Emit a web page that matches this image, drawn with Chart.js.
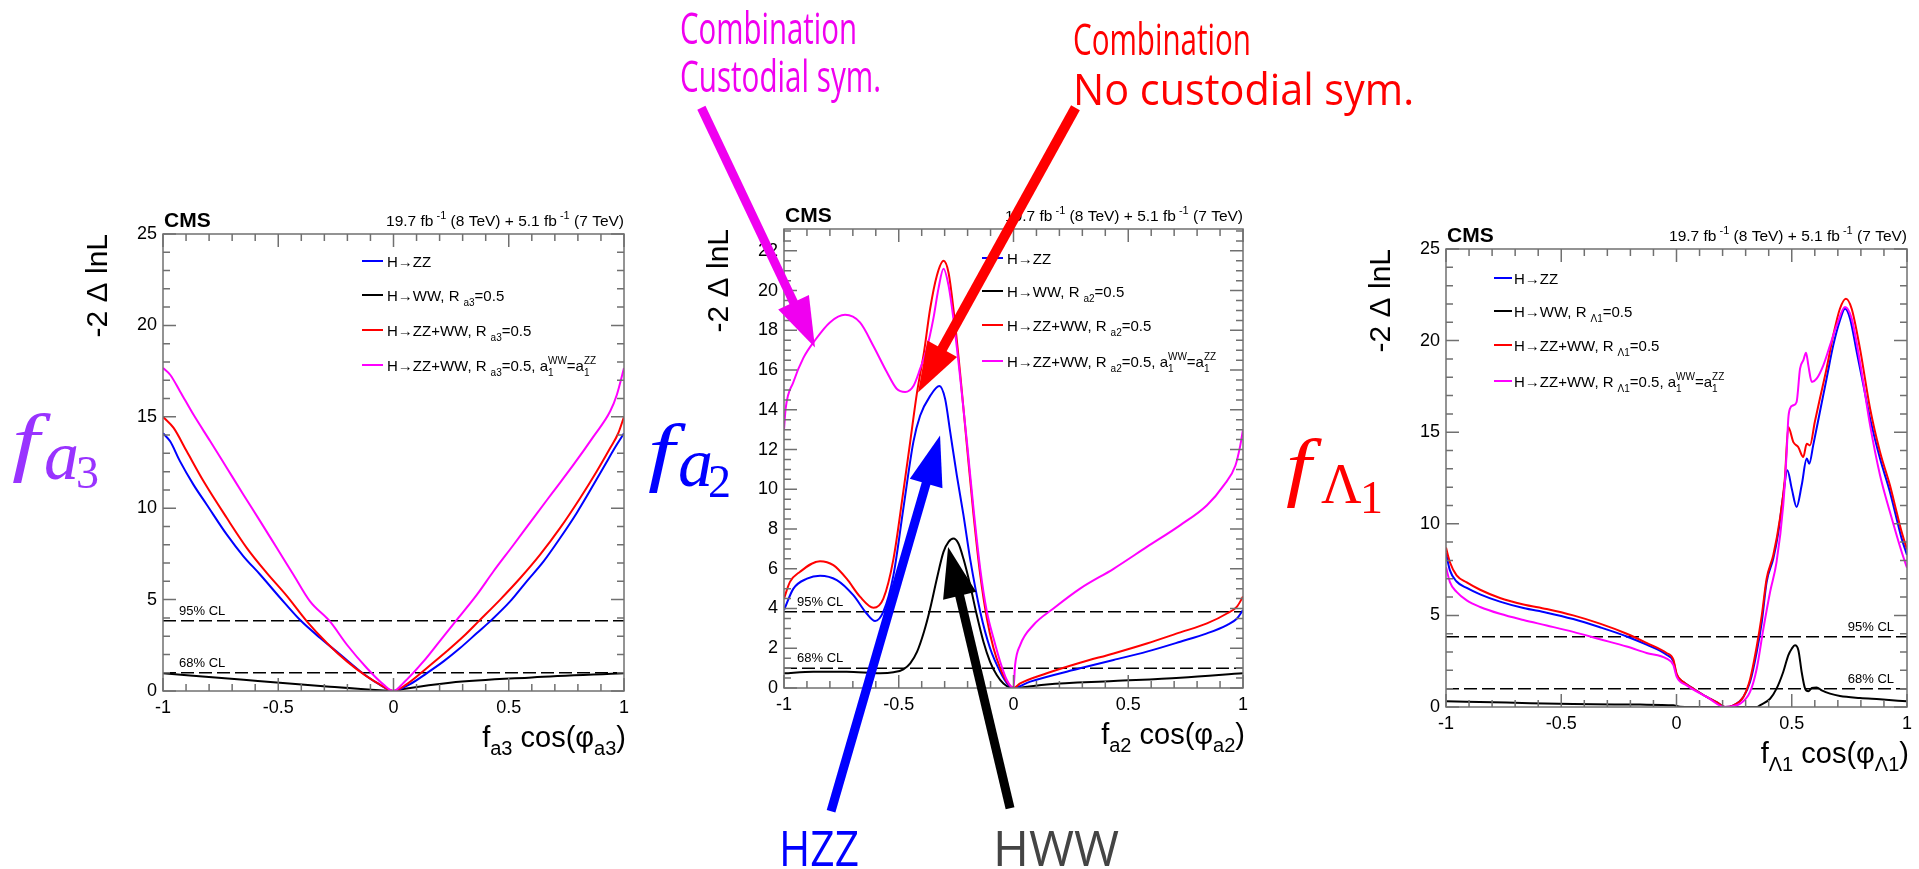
<!DOCTYPE html>
<html>
<head>
<meta charset="utf-8">
<script src="https://cdn.jsdelivr.net/npm/chart.js@4/dist/chart.umd.min.js"></script>
<style>
  html, body { margin: 0; padding: 0; background: #fff; }
  #wrap { position: relative; width: 1919px; height: 869px; overflow: hidden; }
  canvas { position: absolute; left: 0; top: 0; }
</style>
</head>
<body>
<div id="wrap">
  <canvas id="cA3" width="1919" height="869"></canvas>
  <canvas id="cL1" width="1919" height="869"></canvas>
  <canvas id="cA2" width="1919" height="869"></canvas>
</div>
<script>
// ── shared ticks / levels ─────────────────────────────────────────────
var xTicks = [-1, -0.5, 0, 0.5, 1];
var yTicksA3 = [0, 5, 10, 15, 20, 25];
var yTicksA2 = [0, 2, 4, 6, 8, 10, 12, 14, 16, 18, 20, 22];
var yTicksL1 = [0, 5, 10, 15, 20, 25];
var clLevels = [3.84, 1.0];
var clNames = ['95% CL', '68% CL'];

// ── f_a3 panel: [x, -2ΔlnL] ───────────────────────────────────────────
var a3ZZ = [[-1,14.1],[-0.969,13.66],[-0.926,12.56],[-0.868,11.29],[-0.81,10.19],[-0.723,8.55],[-0.651,7.37],[-0.578,6.36],[-0.492,5.1],[-0.405,3.88],[-0.318,2.9],[-0.231,1.99],[-0.145,1.08],[-0.072,0.44],[0,0],[0.072,0.38],[0.145,0.98],[0.217,1.62],[0.289,2.35],[0.362,3.17],[0.419,3.81],[0.506,4.9],[0.578,6.0],[0.651,7.09],[0.723,8.37],[0.795,9.74],[0.868,11.29],[0.926,12.56],[0.969,13.48],[1,14.1]];
var a3WW = [[-1,0.97],[-0.65,0.61],[-0.29,0.25],[-0.06,0.04],[0,0],[0.05,0.12],[0.245,0.45],[0.6,0.74],[1,0.97]];
var a3Comb = [[-1,15.0],[-0.954,14.39],[-0.897,13.11],[-0.824,11.47],[-0.723,9.46],[-0.636,7.82],[-0.55,6.46],[-0.463,5.2],[-0.376,3.81],[-0.289,2.63],[-0.202,1.62],[-0.116,0.8],[-0.058,0.35],[0,0],[0.058,0.38],[0.145,1.26],[0.231,2.17],[0.304,2.99],[0.369,3.81],[0.463,5.0],[0.55,6.18],[0.636,7.46],[0.723,8.92],[0.81,10.56],[0.882,12.02],[0.94,13.29],[0.975,14.1],[1,15.0]];
var a3Cust = [[-1,17.67],[-0.969,17.3],[-0.926,16.39],[-0.868,15.12],[-0.795,13.66],[-0.723,12.2],[-0.651,10.74],[-0.578,9.28],[-0.506,7.82],[-0.434,6.36],[-0.362,4.9],[-0.275,3.79],[-0.202,2.53],[-0.116,1.26],[-0.043,0.35],[0,0],[0.043,0.44],[0.13,1.62],[0.2,2.72],[0.268,3.79],[0.362,5.27],[0.434,6.55],[0.521,8.0],[0.607,9.46],[0.694,10.92],[0.781,12.38],[0.868,13.93],[0.94,15.3],[0.969,16.21],[1,17.67]];

// ── f_a2 panel ────────────────────────────────────────────────────────
var a2ZZ = [[-1,3.92],[-0.959,5.0],[-0.9,5.5],[-0.843,5.65],[-0.77,5.43],[-0.698,4.67],[-0.64,3.75],[-0.603,3.37],[-0.567,3.84],[-0.523,5.68],[-0.48,9.03],[-0.436,12.4],[-0.407,13.7],[-0.363,14.7],[-0.323,15.2],[-0.298,14.55],[-0.276,12.9],[-0.247,10.7],[-0.218,8.7],[-0.189,6.5],[-0.145,3.84],[-0.102,2.0],[-0.058,0.82],[-0.022,0.15],[0,0],[0.073,0.32],[0.29,0.99],[0.436,1.41],[0.581,1.83],[0.727,2.33],[0.843,2.75],[0.93,3.17],[0.974,3.5],[1,3.92]];
var a2WW = [[-1,0.74],[-0.872,0.82],[-0.727,0.82],[-0.581,0.74],[-0.523,0.79],[-0.48,0.94],[-0.45,1.24],[-0.42,1.83],[-0.39,2.83],[-0.363,4.0],[-0.334,5.5],[-0.305,6.85],[-0.283,7.35],[-0.262,7.52],[-0.24,7.27],[-0.218,6.5],[-0.189,5.18],[-0.16,3.67],[-0.131,2.33],[-0.102,1.32],[-0.073,0.65],[-0.044,0.23],[0,0],[0.145,0.18],[0.436,0.35],[0.727,0.52],[1,0.74]];
var a2Comb = [[-1,4.5],[-0.974,5.34],[-0.93,5.85],[-0.843,6.38],[-0.785,6.18],[-0.727,5.5],[-0.669,4.6],[-0.61,4.04],[-0.567,4.5],[-0.523,6.5],[-0.48,9.9],[-0.45,12.4],[-0.42,14.9],[-0.39,16.9],[-0.363,19.1],[-0.334,20.75],[-0.305,21.5],[-0.283,20.9],[-0.262,19.1],[-0.233,15.9],[-0.203,12.2],[-0.174,8.7],[-0.145,5.7],[-0.116,3.5],[-0.087,2.0],[-0.058,1.0],[-0.029,0.32],[0,0],[0.029,0.23],[0.145,0.74],[0.29,1.27],[0.436,1.74],[0.581,2.24],[0.727,2.8],[0.843,3.25],[0.93,3.75],[0.974,4.1],[1,4.6]];
var a2Cust = [[-1,13.0],[-0.993,14.05],[-0.959,15.4],[-0.916,16.6],[-0.865,17.5],[-0.8,18.4],[-0.734,18.78],[-0.669,18.4],[-0.61,17.2],[-0.552,15.9],[-0.509,15.06],[-0.472,14.9],[-0.436,15.2],[-0.407,16.06],[-0.378,17.07],[-0.349,18.6],[-0.327,20.1],[-0.305,21.1],[-0.283,20.25],[-0.262,18.6],[-0.233,15.7],[-0.203,12.4],[-0.174,9.0],[-0.145,6.0],[-0.116,3.84],[-0.087,2.5],[-0.058,1.32],[-0.029,0.4],[0,0],[0.007,1.16],[0.029,2.16],[0.087,3.17],[0.174,4.0],[0.29,5.0],[0.436,6.0],[0.581,7.1],[0.727,8.2],[0.843,9.2],[0.916,10.2],[0.967,11.2],[0.988,12.2],[1,13.0]];

// ── f_Λ1 panel ────────────────────────────────────────────────────────
var l1ZZ = [[-1,8.4],[-0.983,7.46],[-0.954,6.85],[-0.91,6.5],[-0.852,6.15],[-0.766,5.75],[-0.664,5.4],[-0.563,5.15],[-0.448,4.8],[-0.332,4.35],[-0.216,3.85],[-0.13,3.4],[-0.043,2.85],[-0.014,2.5],[0.001,1.75],[0.03,1.36],[0.073,1.0],[0.131,0.55],[0.174,0.27],[0.21,0],[0.247,0.09],[0.29,0.55],[0.319,1.36],[0.348,3.0],[0.37,4.64],[0.391,6.82],[0.42,8.1],[0.442,9.55],[0.463,11.55],[0.481,12.92],[0.5,11.92],[0.521,10.92],[0.543,12.1],[0.565,13.56],[0.576,13.28],[0.593,14.28],[0.622,16.1],[0.651,17.92],[0.68,19.74],[0.709,21.1],[0.731,21.74],[0.753,21.2],[0.782,19.38],[0.811,17.56],[0.84,15.74],[0.883,13.56],[0.926,11.74],[0.955,10.28],[0.977,9.19],[1,8.3]];
var l1WW = [[-1,0.31],[-0.737,0.24],[-0.448,0.16],[-0.158,0.13],[-0.014,0.09],[0.015,0.02],[0.13,0],[0.35,0],[0.362,0.09],[0.406,0.45],[0.434,1.0],[0.463,1.91],[0.485,2.82],[0.5,3.18],[0.514,3.37],[0.529,3.09],[0.543,1.91],[0.558,1.0],[0.572,0.86],[0.587,1.04],[0.608,1.07],[0.63,0.91],[0.666,0.73],[0.709,0.6],[0.796,0.49],[0.883,0.42],[1,0.31]];
var l1Comb = [[-1,8.7],[-0.983,7.9],[-0.954,7.19],[-0.91,6.8],[-0.852,6.4],[-0.766,5.95],[-0.664,5.6],[-0.563,5.35],[-0.448,5.0],[-0.332,4.55],[-0.216,4.0],[-0.13,3.5],[-0.043,2.95],[-0.014,2.6],[0.001,1.8],[0.03,1.36],[0.073,1.0],[0.131,0.55],[0.174,0.27],[0.21,0],[0.247,0.09],[0.29,0.55],[0.319,1.5],[0.348,3.3],[0.37,5.0],[0.391,7.0],[0.42,8.3],[0.449,10.3],[0.47,12.46],[0.485,15.28],[0.507,14.46],[0.528,14.19],[0.55,13.65],[0.565,14.37],[0.579,14.28],[0.6,15.56],[0.622,16.83],[0.651,18.47],[0.68,20.29],[0.709,21.74],[0.735,22.29],[0.76,21.74],[0.796,19.56],[0.84,16.28],[0.883,13.92],[0.926,12.1],[0.955,10.64],[0.977,9.55],[1,8.6]];
var l1Cust = [[-1,7.64],[-0.983,6.82],[-0.954,6.28],[-0.91,5.82],[-0.852,5.46],[-0.766,5.09],[-0.664,4.75],[-0.563,4.45],[-0.448,4.1],[-0.332,3.7],[-0.216,3.3],[-0.13,2.95],[-0.043,2.64],[-0.014,2.3],[0.001,1.64],[0.044,1.18],[0.131,0.55],[0.21,0],[0.276,0.18],[0.319,0.82],[0.348,2.09],[0.377,4.28],[0.406,6.28],[0.434,7.91],[0.463,11.0],[0.478,13.92],[0.485,15.74],[0.492,16.28],[0.507,16.47],[0.521,16.65],[0.536,18.47],[0.55,18.92],[0.562,19.34],[0.572,18.65],[0.587,17.74],[0.608,17.92],[0.637,18.65],[0.666,19.74],[0.695,20.83],[0.731,21.83],[0.76,21.2],[0.796,18.83],[0.84,15.37],[0.883,12.65],[0.926,10.64],[0.955,9.37],[0.977,8.46],[1,7.6]];

// ── annotation arrows, in f_a2 data coordinates ───────────────────────
var arrowFrom = [[-1.36, 29.2], [0.27, 29.2], [-0.795, -6.2], [-0.015, -6.05]];
var arrowTo   = [[-0.865, 17.14], [-0.416, 14.87], [-0.32, 12.71], [-0.285, 7.09]];
var arrowCols = ['#f000f0', '#ff0000', '#0000ff', '#000000'];

var colZZ = '#0000ff', colWW = '#000000', colComb = '#ff0000', colCust = '#ff00ff';
var SANS = '"Liberation Sans", Arial, Helvetica, sans-serif';
var SERIF = '"Liberation Serif", "Times New Roman", serif';
var NOTE = '"Open Sans", sans-serif';

function fontStr(p) {
  return (p.it ? 'italic ' : '') + (p.b ? 'bold ' : '') + p.s + 'px ' + (p.fam || SANS);
}
function partW(ctx, p) {
  if (p.gap) return p.gap;
  ctx.font = fontStr(p);
  if (p.sup !== undefined) return Math.max(ctx.measureText(p.sup).width, ctx.measureText(p.sub).width);
  return ctx.measureText(p.t).width;
}
function drawRich(ctx, parts, x, y, align) {
  if (align === 'right') {
    var w = 0;
    parts.forEach(function (p) { w += partW(ctx, p); });
    x -= w;
  }
  ctx.textAlign = 'left';
  ctx.textBaseline = 'alphabetic';
  parts.forEach(function (p) {
    var w = partW(ctx, p);
    if (p.gap) { x += w; return; }
    ctx.font = fontStr(p);
    if (p.sup !== undefined) {
      ctx.fillText(p.sup, x, y - p.up);
      ctx.fillText(p.sub, x, y + p.down);
    } else {
      ctx.fillText(p.t, x, y + (p.dy || 0));
    }
    x += w;
  });
}
// places a glyph so that its ink box starts at `left` and ends at `bottom`;
// if `right` is given the glyph is stretched horizontally to that edge
function glyph(ctx, t, font, left, bottom, right) {
  ctx.font = font;
  ctx.textAlign = 'left';
  ctx.textBaseline = 'alphabetic';
  var m = ctx.measureText(t);
  var inkW = m.actualBoundingBoxLeft + m.actualBoundingBoxRight;
  var sx = right ? (right - left) / inkW : 1;
  ctx.save();
  ctx.translate(left, bottom - m.actualBoundingBoxDescent);
  ctx.scale(sx, 1);
  ctx.fillText(t, m.actualBoundingBoxLeft, 0);
  ctx.restore();
}

function legendParts(sym) {
  var S = 15, s = 10;
  return [
    [{ t: 'H→ZZ', s: S }],
    [{ t: 'H→WW, R', s: S }, { gap: 4 }, { t: sym, s: s, dy: 5 }, { t: '=0.5', s: S }],
    [{ t: 'H→ZZ+WW, R', s: S }, { gap: 4 }, { t: sym, s: s, dy: 5 }, { t: '=0.5', s: S }],
    [{ t: 'H→ZZ+WW, R', s: S }, { gap: 4 }, { t: sym, s: s, dy: 5 }, { t: '=0.5, a', s: S },
     { sup: 'WW', sub: '1', s: s, up: 7, down: 5 }, { t: '=a', s: S }, { sup: 'ZZ', sub: '1', s: s, up: 7, down: 5 }]
  ];
}
var lumiParts = [{ t: '19.7 fb', s: 15.5 }, { gap: 3 }, { t: '-1', s: 11, dy: -7 }, { t: ' (8 TeV) + 5.1 fb', s: 15.5 },
                 { gap: 3 }, { t: '-1', s: 11, dy: -7 }, { t: ' (7 TeV)', s: 15.5 }];

var panels = [
  { id: 'cA3', area: { l: 163, t: 234, r: 624, b: 691 }, yMax: 25, yTicks: yTicksA3, yMinor: 1, majEvery: 5,
    sym: 'a3', series: [a3ZZ, a3WW, a3Comb, a3Cust],
    leg: { x0: 362, x1: 383, tx: 387, rows: [261, 295, 330, 365] },
    cl: { align: 'left', x: 179 },
    big: { color: '#9933ff', f: [12, 483, 51], sub: 'a', subIt: true, subSize: 70, s: [46, 480], ss: '3', sss: [78, 488] } },
  { id: 'cL1', area: { l: 1446, t: 249, r: 1907, b: 707 }, yMax: 25, yTicks: yTicksL1, yMinor: 1, majEvery: 5,
    sym: 'Λ1', series: [l1ZZ, l1WW, l1Comb, l1Cust],
    leg: { x0: 1494, x1: 1512, tx: 1514, rows: [278, 311, 345, 381] },
    cl: { align: 'right', x: 1894 },
    big: { color: '#ff0000', f: [1286, 508, 1322], sub: 'Λ', subIt: false, subSize: 56, s: [1321, 503], ss: '1', sss: [1364, 513] } },
  { id: 'cA2', area: { l: 784, t: 229, r: 1243, b: 688 }, yMax: 23.1, yTicks: yTicksA2, yMinor: 0.5, majEvery: 4,
    sym: 'a2', series: [a2ZZ, a2WW, a2Comb, a2Cust],
    leg: { x0: 982, x1: 1003, tx: 1007, rows: [258, 291, 325, 361] },
    cl: { align: 'left', x: 797 },
    big: { color: '#0000ff', f: [648, 493, 686], sub: 'a', subIt: true, subSize: 70, s: [680, 487], ss: '2', sss: [710, 497] },
    notes: true }
];

function framePlugin(p) {
  return {
    id: 'rootFrame',
    afterDraw: function (chart) {
      var ctx = chart.ctx, xs = chart.scales.x, ys = chart.scales.y, a = chart.chartArea;
      ctx.save();
      // frame + inward ticks on all four sides
      ctx.strokeStyle = '#707070';
      ctx.lineWidth = 1.5;
      ctx.strokeRect(a.left, a.top, a.right - a.left, a.bottom - a.top);
      ctx.beginPath();
      for (var i = -10; i <= 10; i++) {
        var px = xs.getPixelForValue(i / 10), len = (i % 5 === 0) ? 13 : 7;
        ctx.moveTo(px, a.bottom); ctx.lineTo(px, a.bottom - len);
        ctx.moveTo(px, a.top); ctx.lineTo(px, a.top + len);
      }
      for (var k = 0; k * p.yMinor <= p.yMax + 1e-9; k++) {
        var py = ys.getPixelForValue(k * p.yMinor), ly = (k % p.majEvery === 0) ? 13 : 7;
        ctx.moveTo(a.left, py); ctx.lineTo(a.left + ly, py);
        ctx.moveTo(a.right, py); ctx.lineTo(a.right - ly, py);
      }
      ctx.stroke();

      ctx.fillStyle = '#000';
      // tick labels
      ctx.font = '18px ' + SANS;
      ctx.textAlign = 'right'; ctx.textBaseline = 'middle';
      p.yTicks.forEach(function (v) { ctx.fillText(String(v), a.left - 6, ys.getPixelForValue(v)); });
      ctx.textAlign = 'center'; ctx.textBaseline = 'alphabetic';
      xTicks.forEach(function (v) { ctx.fillText(String(v), xs.getPixelForValue(v), a.bottom + 22); });

      // axis titles
      drawRich(ctx, [{ t: 'f', s: 29 }, { t: p.sym, s: 20, dy: 8 }, { t: ' cos(φ', s: 29 }, { t: p.sym, s: 20, dy: 8 }, { t: ')', s: 29 }],
               a.right + 2, a.bottom + 56, 'right');
      ctx.save();
      ctx.translate(a.left - 56, a.top);
      ctx.rotate(-Math.PI / 2);
      ctx.font = '30px ' + SANS;
      ctx.textAlign = 'right'; ctx.textBaseline = 'alphabetic';
      ctx.fillText('-2 Δ lnL', 0, 0);
      ctx.restore();

      // CMS + lumi
      ctx.font = 'bold 21px ' + SANS;
      ctx.textAlign = 'left';
      ctx.fillText('CMS', a.left + 1, a.top - 7);
      drawRich(ctx, lumiParts, a.right, a.top - 8, 'right');

      // legend
      var cols = [colZZ, colWW, colComb, colCust];
      var parts = legendParts(p.sym);
      p.leg.rows.forEach(function (ry, i) {
        ctx.strokeStyle = cols[i]; ctx.lineWidth = 2;
        ctx.beginPath(); ctx.moveTo(p.leg.x0, ry); ctx.lineTo(p.leg.x1, ry); ctx.stroke();
        ctx.fillStyle = '#000';
        drawRich(ctx, parts[i], p.leg.tx, ry + 5.5, 'left');
      });

      // CL labels
      ctx.font = '13px ' + SANS;
      ctx.textAlign = p.cl.align;
      clLevels.forEach(function (lv, i) { ctx.fillText(clNames[i], p.cl.x, ys.getPixelForValue(lv) - 6); });

      // big coupling label
      ctx.fillStyle = p.big.color;
      glyph(ctx, 'f', 'italic 76px ' + SERIF, p.big.f[0], p.big.f[1], p.big.f[2]);
      glyph(ctx, p.big.sub, (p.big.subIt ? 'italic ' : '') + p.big.subSize + 'px ' + SERIF, p.big.s[0], p.big.s[1]);
      glyph(ctx, p.big.ss, '46px ' + SERIF, p.big.sss[0], p.big.sss[1]);

      if (p.notes) drawNotes(ctx, xs, ys);
      ctx.restore();
    }
  };
}

function drawNotes(ctx, xs, ys) {
  // arrows
  arrowFrom.forEach(function (f, i) {
    var x0 = xs.getPixelForValue(f[0]), y0 = ys.getPixelForValue(f[1]);
    var x1 = xs.getPixelForValue(arrowTo[i][0]), y1 = ys.getPixelForValue(arrowTo[i][1]);
    var dx = x1 - x0, dy = y1 - y0, L = Math.sqrt(dx * dx + dy * dy);
    var ux = dx / L, uy = dy / L, hl = 50, hw = 17;
    var bx = x1 - ux * hl, by = y1 - uy * hl;
    ctx.strokeStyle = arrowCols[i]; ctx.fillStyle = arrowCols[i];
    ctx.lineWidth = i === 1 ? 10 : 9; ctx.lineCap = 'butt';
    ctx.beginPath(); ctx.moveTo(x0, y0); ctx.lineTo(bx + ux * 2, by + uy * 2); ctx.stroke();
    ctx.beginPath();
    ctx.moveTo(x1, y1);
    ctx.lineTo(bx - uy * hw, by + ux * hw);
    ctx.lineTo(bx + uy * hw, by - ux * hw);
    ctx.closePath(); ctx.fill();
  });
  // text notes
  ctx.textAlign = 'left'; ctx.textBaseline = 'alphabetic';
  ctx.font = '43px ' + NOTE;
  ctx.fillStyle = '#f000f0';
  ctx.fillText('Combination', 680, 44, 177);
  ctx.fillText('Custodial sym.', 680, 92, 201);
  ctx.fillStyle = '#ff0000';
  ctx.fillText('Combination', 1073, 55, 178);
  ctx.fillText('No custodial sym.', 1073, 105, 341);
  ctx.font = '49px ' + NOTE;
  ctx.fillStyle = '#0000ff';
  ctx.fillText('HZZ', 779, 866, 80);
  ctx.fillStyle = '#444444';
  ctx.fillText('HWW', 993, 866, 126);
}

function curve(pairs, color) {
  return {
    data: pairs.map(function (q) { return { x: q[0], y: q[1] }; }),
    borderColor: color, borderWidth: 2, pointRadius: 0, fill: false,
    cubicInterpolationMode: 'monotone'
  };
}
function clLine(level) {
  return {
    data: [{ x: xTicks[0], y: level }, { x: xTicks[xTicks.length - 1], y: level }],
    borderColor: '#000', borderWidth: 1.5, borderDash: [13, 5], pointRadius: 0, fill: false
  };
}

panels.forEach(function (p) {
  var el = document.getElementById(p.id);
  var ds = [curve(p.series[3], colCust), curve(p.series[2], colComb), curve(p.series[0], colZZ), curve(p.series[1], colWW)];
  clLevels.forEach(function (lv) { ds.push(clLine(lv)); });
  new Chart(el, {
    type: 'line',
    data: { datasets: ds },
    options: {
      responsive: false,
      animation: false,
      events: [],
      layout: { padding: { left: p.area.l, top: p.area.t, right: 1919 - p.area.r, bottom: 869 - p.area.b } },
      scales: {
        x: { type: 'linear', min: -1, max: 1, display: false },
        y: { type: 'linear', min: 0, max: p.yMax, display: false }
      },
      plugins: { legend: { display: false }, tooltip: { enabled: false } }
    },
    plugins: [framePlugin(p)]
  });
});
</script>
</body>
</html>
